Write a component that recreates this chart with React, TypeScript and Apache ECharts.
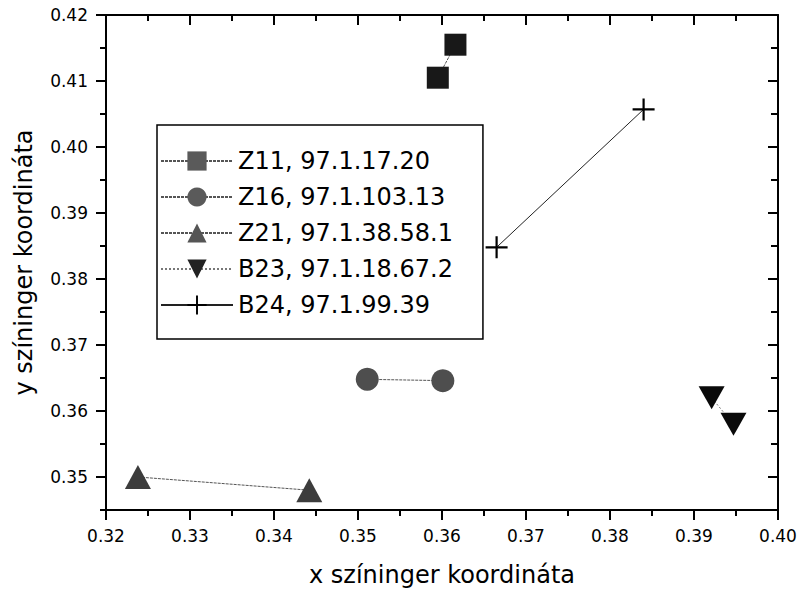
import React, { useEffect, useRef } from "react";
import * as echarts from "echarts";

const seriesNames = [
  "Z11, 97.1.17.20",
  "Z16, 97.1.103.13",
  "Z21, 97.1.38.58.1",
  "B23, 97.1.18.67.2",
  "B24, 97.1.99.39",
];
const z11X = [0.3595, 0.3616];
const z11Y = [0.4105, 0.4155];
const z16X = [0.3511, 0.3601];
const z16Y = [0.3648, 0.3646];
const z21X = [0.3238, 0.3442];
const z21Y = [0.35, 0.348];
const b23X = [0.3921, 0.3947];
const b23Y = [0.362, 0.358];
const b24X = [0.3665, 0.384];
const b24Y = [0.3848, 0.4057];

const yMajorTicks = [0.35, 0.36, 0.37, 0.38, 0.39, 0.4, 0.41, 0.42];
const yMinorTicks = [0.345, 0.355, 0.365, 0.375, 0.385, 0.395, 0.405, 0.415];

const FONT = "DejaVu Sans";
const PLUS = "path://M9,0h2v9h9v2h-9v9h-2v-9h-9v-2h9z";
const DOWN = "path://M0,0L20,0L10,18z";

function pairs(xs: number[], ys: number[], pointColor: string) {
  return xs.map((x, i) => ({ value: [x, ys[i]], itemStyle: { color: pointColor } }));
}

export default function App() {
  const ref = useRef<HTMLDivElement>(null);
  useEffect(() => {
    if (!ref.current) return;
    const chart = echarts.init(ref.current, undefined, { renderer: "svg" });
    const axisLine = { show: true, lineStyle: { color: "#000", width: 2 } };
    const yBase = { type: "value", min: 0.345, max: 0.42, splitLine: { show: false } };
    const lineSeries = (
      name: string,
      xs: number[],
      ys: number[],
      symbol: string,
      size: any,
      legendColor: string,
      pointColor: string,
      lineColor: string,
      lineType: any
    ) => ({
      name,
      type: "line",
      data: pairs(xs, ys, pointColor),
      symbol,
      symbolSize: size,
      showSymbol: true,
      itemStyle: { color: legendColor, opacity: 1 },
      lineStyle: { color: lineColor, width: 1, type: lineType },
      z: 3,
    });
    chart.setOption({
      animation: false,
      backgroundColor: "#fff",
      textStyle: { fontFamily: FONT },
      grid: { left: 106, right: 22, top: 15, bottom: 79, containLabel: false },
      legend: {
        orient: "vertical",
        left: 157,
        top: 125,
        data: seriesNames,
        itemWidth: 72,
        itemHeight: 24,
        itemGap: 12,
        padding: [24, 30, 22, 3],
        borderColor: "#000",
        borderWidth: 1.5,
        textStyle: { fontFamily: FONT, fontSize: 24, color: "#000" },
        selectedMode: false,
      },
      xAxis: [
        {
          type: "value",
          min: 0.32,
          max: 0.4,
          interval: 0.01,
          position: "bottom",
          name: "x színinger koordináta",
          nameLocation: "middle",
          nameGap: 53,
          nameTextStyle: { fontFamily: FONT, fontSize: 24, color: "#000" },
          axisLine,
          axisTick: { show: true, inside: false, length: 10, lineStyle: { color: "#000", width: 2 } },
          minorTick: { show: true, splitNumber: 2, length: 6, lineStyle: { color: "#000", width: 2 } },
          axisLabel: { fontFamily: FONT, fontSize: 17, color: "#000", margin: 17, formatter: (v: number) => v.toFixed(2) },
          splitLine: { show: false },
        },
        {
          type: "value",
          min: 0.32,
          max: 0.4,
          interval: 0.01,
          position: "top",
          axisLine,
          axisTick: { show: true, inside: true, length: 10, lineStyle: { color: "#000", width: 2 } },
          minorTick: { show: true, splitNumber: 2, length: 6, lineStyle: { color: "#000", width: 2 } },
          axisLabel: { show: false },
          splitLine: { show: false },
        },
      ],
      yAxis: [
        {
          ...yBase,
          position: "left",
          name: "y színinger koordináta",
          nameLocation: "middle",
          nameGap: 70,
          nameTextStyle: { fontFamily: FONT, fontSize: 24, color: "#000" },
          axisLine,
          axisTick: { show: true, inside: false, length: 10, customValues: yMajorTicks, lineStyle: { color: "#000", width: 2 } },
          axisLabel: { fontFamily: FONT, fontSize: 17, color: "#000", margin: 18, customValues: yMajorTicks, formatter: (v: number) => v.toFixed(2) },
        },
        {
          ...yBase,
          position: "left",
          axisLine: { show: false },
          axisTick: { show: true, inside: false, length: 6, customValues: yMinorTicks, lineStyle: { color: "#000", width: 2 } },
          axisLabel: { show: false },
        },
        {
          ...yBase,
          position: "right",
          axisLine,
          axisTick: { show: true, inside: true, length: 10, customValues: yMajorTicks, lineStyle: { color: "#000", width: 2 } },
          axisLabel: { show: false },
        },
        {
          ...yBase,
          position: "right",
          axisLine: { show: false },
          axisTick: { show: true, inside: true, length: 7, customValues: yMinorTicks, lineStyle: { color: "#000", width: 2 } },
          axisLabel: { show: false },
        },
      ],
      series: [
        lineSeries(seriesNames[0], z11X, z11Y, "rect", 22, "#5a5a5a", "#181818", "#555", [3, 1]),
        lineSeries(seriesNames[1], z16X, z16Y, "circle", 23, "#5a5a5a", "#4e4e4e", "#555", [3, 1]),
        lineSeries(seriesNames[2], z21X, z21Y, "triangle", [26, 24], "#555", "#3c3c3c", "#555", [3, 1]),
        lineSeries(seriesNames[3], b23X, b23Y, DOWN, [26, 23], "#222", "#0a0a0a", "#777", [2, 2]),
        lineSeries(seriesNames[4], b24X, b24Y, PLUS, 22, "#000", "#000", "#222", "solid"),
      ],
    });
    return () => chart.dispose();
  }, []);
  return (
    <div
      ref={ref}
      style={{ position: "fixed", left: 0, top: 0, width: 800, height: 592, background: "#fff" }}
    />
  );
}
